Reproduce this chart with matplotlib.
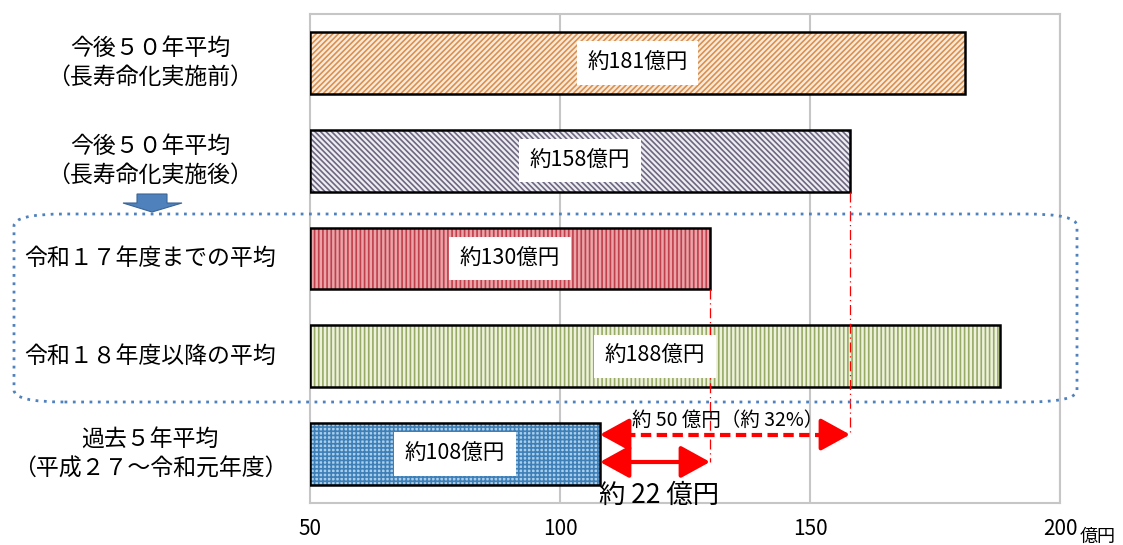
import matplotlib
matplotlib.use("Agg")
import matplotlib.pyplot as plt
from matplotlib.patches import FancyBboxPatch, Polygon

plt.rcParams['font.family'] = ['Noto Sans CJK JP', 'DejaVu Sans']
plt.rcParams['hatch.linewidth'] = 1.2

# ---- data ----
categories = [
    "今後５０年平均\n（長寿命化実施前）",
    "今後５０年平均\n（長寿命化実施後）",
    "令和１７年度までの平均",
    "令和１８年度以降の平均",
    "過去５年平均\n（平成２７～令和元年度）",
]
values = [181, 158, 130, 188, 108]
value_labels = ["約181億円", "約158億円", "約130億円", "約188億円", "約108億円"]
x_ticks = [50, 100, 150, 200]
x_tick_labels = ["50", "100", "150", "200"]
unit_label = "億円"
diff_total_label = "約 50 億円（約 32%）"
diff_near_label = "約 22 億円"

face_colors = ["#fbeadb", "#eeedf2", "#eaa3a7", "#eef2dc", "#a9cfea"]
hatch_colors = ["#d9904f", "#6d6680", "#c03f4c", "#97ab66", "#3f7fb8"]
hatches = ["//////", "\\\\\\\\\\\\", "||||", "||||", "++++"]

W, H = 1123, 545
fig = plt.figure(figsize=(W / 100, H / 100), dpi=100)
ax = fig.add_axes([310 / W, 1 - 503 / H, 750 / W, 489 / H])

xmin = 50
bar_h = 0.63

# grid
for xv in x_ticks[1:]:
    ax.axvline(xv, color="#c6c6c6", lw=1.5, zorder=0)

for i, v in enumerate(values):
    ax.barh(i, v - xmin, left=xmin, height=bar_h, color=face_colors[i],
            edgecolor=hatch_colors[i], hatch=hatches[i], lw=0, zorder=2)
    ax.barh(i, v - xmin, left=xmin, height=bar_h, fill=False,
            edgecolor="black", lw=1.8, zorder=3)
    ax.text((xmin + v) / 2, i, value_labels[i], ha="center", va="center",
            fontsize=15.5, zorder=5,
            bbox=dict(boxstyle="square,pad=0.5", fc="white", ec="none"))

ax.set_xlim(50, 200)
ax.set_ylim(len(categories) - 0.5, -0.5)
ax.set_xticks(x_ticks)
ax.set_xticklabels(x_tick_labels, fontsize=15)
ax.set_yticks([])
ax.tick_params(axis="x", length=0, pad=11)
for s in ax.spines.values():
    s.set_color("#c6c6c6")
    s.set_linewidth(1.5)

# category labels
for i, c in enumerate(categories):
    ax.text(-0.213, i, c, transform=ax.get_yaxis_transform(), ha="center",
            va="center", fontsize=16.5, linespacing=1.35)

# unit
fig.text(1080 / W, 1 - 537 / H, unit_label, fontsize=13, ha="left", va="center")

# red reference lines
y_dash = 3.80
y_solid = 4.08
ax.plot([values[1], values[1]], [1 + bar_h / 2, y_dash], color="red", lw=0.9,
        ls=(0, (8, 3, 1, 3)), zorder=4)
ax.plot([values[2], values[2]], [2 + bar_h / 2, y_solid], color="red", lw=0.9,
        ls=(0, (8, 3, 1, 3)), zorder=4)

# arrows
head = dict(arrowstyle="-|>,head_length=1.0,head_width=0.55", color="red",
            lw=3, shrinkA=0, shrinkB=0, mutation_scale=18)


def double_arrow(x0, x1, y, dashed):
    hl = 5.0  # head length in data units (approx 25 px)
    if dashed:
        ax.plot([x0 + hl, x1 - hl], [y, y], color="red", lw=3,
                ls=(0, (2.5, 1.3)), zorder=6, dash_capstyle="butt")
    else:
        ax.plot([x0 + hl, x1 - hl], [y, y], color="red", lw=3, zorder=6)
    ax.annotate("", xy=(x0, y), xytext=(x0 + hl, y), arrowprops=head, zorder=7)
    ax.annotate("", xy=(x1, y), xytext=(x1 - hl, y), arrowprops=head, zorder=7)


double_arrow(values[4], values[1], y_dash, True)
double_arrow(values[4], values[2], y_solid, False)

ax.text((values[4] + values[1]) / 2 + 0.5, 3.66, diff_total_label, ha="center",
        va="center", fontsize=14, zorder=6)
ax.text(values[4] - 0.2, 4.42, diff_near_label, ha="left", va="center",
        fontsize=19, zorder=6)

# dotted rounded box around rows 3-4
box = FancyBboxPatch((14 / W, 1 - 402 / H), (1077 - 14) / W, (402 - 214) / H,
                     boxstyle="round,pad=0,rounding_size=0.045",
                     transform=fig.transFigure, fill=False,
                     ec="#4f81bd", lw=2, ls=(0, (1, 2)), mutation_aspect=H / W)
fig.add_artist(box)

# blue down arrow
pts = [(137, 194), (167, 194), (167, 203), (182, 203), (152, 212), (123, 203), (137, 203)]
arrow = Polygon([(x / W, 1 - y / H) for x, y in pts], closed=True,
                transform=fig.transFigure, fc="#4f81bd", ec="#3a6596", lw=0.8)
fig.add_artist(arrow)

fig.savefig("out.png", dpi=100)
